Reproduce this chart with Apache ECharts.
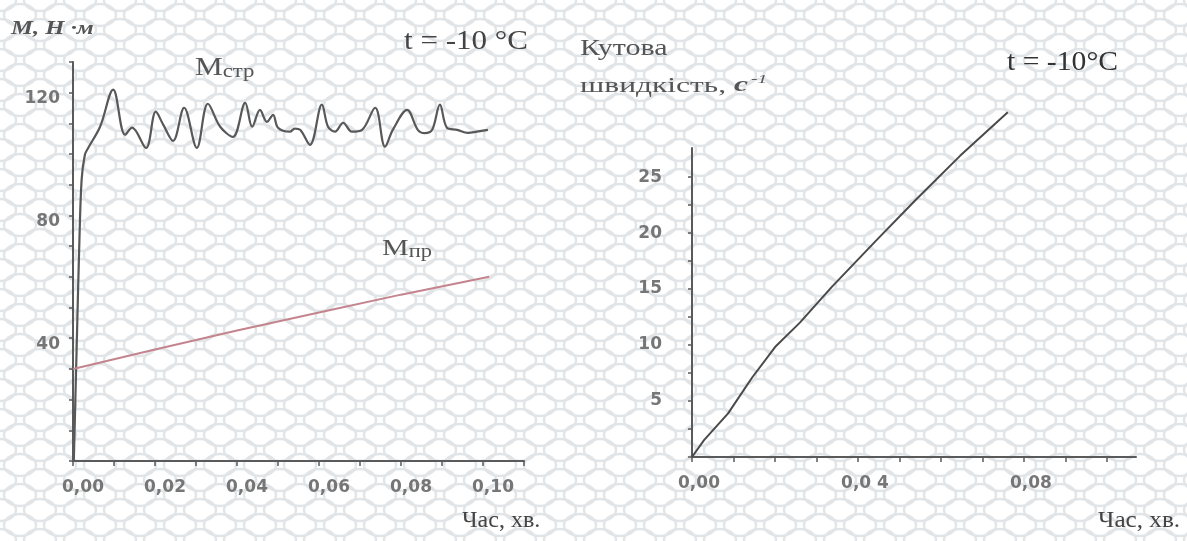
<!DOCTYPE html>
<html>
<head>
<meta charset="utf-8">
<script src="https://cdn.jsdelivr.net/npm/echarts@6/dist/echarts.min.js"></script>
<style>
html,body{margin:0;padding:0;background:#fff;}
#c{width:1187px;height:541px;}
</style>
</head>
<body>
<div id="c"></div>
<script>
// ---- Left chart: torque M (N·m) vs time (min) ----
const mStrT = [0.0002,0.001,0.0015,0.0021,0.0029,0.0037,0.0066,0.0098,0.0127,0.0144,0.0178,0.0202,0.022,0.0244,0.0271,0.0302,0.0329,0.0359,0.039,0.042,0.0437,0.0456,0.0473,0.0488,0.05,0.0529,0.0541,0.0554,0.0578,0.0607,0.0622,0.0639,0.0659,0.068,0.0705,0.0737,0.0761,0.078,0.0815,0.0841,0.0858,0.0876,0.0895,0.0912,0.0937,0.0963,0.0985,0.1012];
const mStrV = [0,42.7,68.8,91.6,99.8,102,108.9,121,106.3,108.6,102,113.8,109.6,104.3,115.1,102,116.4,108.9,105.6,116.7,108.9,114.4,110.5,112.8,108.6,107.3,108.3,107.9,103,116.1,108.9,107.3,110.2,107.3,107.9,115.1,102.4,107.9,114.4,107.9,106.8,107.9,116.1,108.6,107.9,106.9,107.3,107.9];
const mPrT = [0,0.02,0.04,0.06,0.08,0.1015];
const mPrV = [30,36.3,42.5,48.4,54.2,60];
const leftXTicks = [0,0.01,0.02,0.03,0.04,0.05,0.06,0.07,0.08,0.09,0.10,0.11];
const leftXLabels = [0,0.02,0.04,0.06,0.08,0.10];
const leftYTicks = [0,10,20,30,40,50,60,70,80,90,100,110,120,130];
const leftYLabels = [40,80,120];

// ---- Right chart: angular speed (1/s) vs time (min) ----
const omegaT = [0,0.0029,0.0087,0.0145,0.0202,0.026,0.0337,0.0443,0.054,0.0646,0.0761];
const omegaV = [0,1.5,3.9,7.1,9.9,12.0,15.2,19.3,23.0,26.9,30.8];
const rightXTicks = [0,0.01,0.02,0.03,0.04,0.05,0.06,0.07,0.08,0.09,0.10];
const rightXLabels = [0,0.04,0.08];
const rightXLabelText = ['0,00','0,0 4','0,08'];
const rightYTicks = [0,2.5,5,7.5,10,12.5,15,17.5,20,22.5,25];
const rightYLabels = [5,10,15,20,25];

function zip(a,b){return a.map((x,i)=>[x,b[i]]);}
function comma(v){return v.toFixed(2).replace('.',',');}

// background lattice pattern
const tile = document.createElement('canvas');
tile.width = 40; tile.height = 30;
(function(){
  const g = tile.getContext('2d');
  g.fillStyle = '#ffffff'; g.fillRect(0,0,40,30);
  g.strokeStyle = '#e2e5e8'; g.lineWidth = 2.4;
  const ell = (cx,cy)=>{g.beginPath();g.ellipse(cx,cy,16,11,0,0,Math.PI*2);g.stroke();};
  ell(20,15); ell(0,0); ell(40,0); ell(0,30); ell(40,30);
})();

const axisCol = '#5a5a5a';
const lblStyle = {color:'#767676', fontFamily:'DejaVu Sans', fontWeight:'bold', fontSize:17};
const serif = '"Liberation Serif", "Times New Roman", serif';

const chart = echarts.init(document.getElementById('c'), null, {renderer:'canvas'});
chart.setOption({
  animation:false,
  backgroundColor:{image:tile, repeat:'repeat'},
  grid:[
    {left:73, top:62, width:451, height:399},
    {left:692, top:148, width:444, height:309}
  ],
  xAxis:[
    {gridIndex:0, type:'value', min:0, max:0.11, splitLine:{show:false},
     axisLine:{onZero:false, lineStyle:{color:axisCol, width:2}},
     axisTick:{customValues:leftXTicks, length:5, lineStyle:{color:axisCol, width:1.5}},
     axisLabel:Object.assign({customValues:leftXLabels, formatter:v=>comma(v), margin:18, padding:[0,0,0,20]}, lblStyle)},
    {gridIndex:1, type:'value', min:0, max:0.107, splitLine:{show:false},
     axisLine:{onZero:false, lineStyle:{color:axisCol, width:2}},
     axisTick:{customValues:rightXTicks, length:5, lineStyle:{color:axisCol, width:1.5}},
     axisLabel:Object.assign({customValues:rightXLabels, formatter:v=>rightXLabelText[rightXLabels.findIndex(x=>Math.abs(x-v)<1e-9)], margin:18, padding:[0,0,0,14]}, lblStyle)}
  ],
  yAxis:[
    {gridIndex:0, type:'value', min:0, max:130, splitLine:{show:false},
     axisLine:{show:true, onZero:false, lineStyle:{color:axisCol, width:2}},
     axisTick:{show:true, customValues:leftYTicks, length:4, lineStyle:{color:axisCol, width:1.5}},
     axisLabel:Object.assign({customValues:leftYLabels, margin:13, verticalAlign:'top', lineHeight:12}, lblStyle)},
    {gridIndex:1, type:'value', min:0, max:27.6, splitLine:{show:false},
     axisLine:{show:true, onZero:false, lineStyle:{color:axisCol, width:2}},
     axisTick:{show:true, customValues:rightYTicks, length:4, lineStyle:{color:axisCol, width:1.5}},
     axisLabel:Object.assign({customValues:rightYLabels, margin:30}, lblStyle)}
  ],
  series:[
    {type:'line', xAxisIndex:0, yAxisIndex:0, data:zip(mStrT,mStrV), showSymbol:false, smooth:0.35, clip:false,
     lineStyle:{color:'#585858', width:2.2}},
    {type:'line', xAxisIndex:0, yAxisIndex:0, data:zip(mPrT,mPrV), showSymbol:false, clip:false,
     lineStyle:{color:'#c4848e', width:2}},
    {type:'line', xAxisIndex:1, yAxisIndex:1, data:zip(omegaT,omegaV), showSymbol:false, clip:false,
     lineStyle:{color:'#4a4a4a', width:2}}
  ],
  graphic:[
    {type:'text', x:11, y:20, scaleX:1.3, style:{text:'M, H ·м', font:'italic bold 19px '+serif, fill:'#555'}},
    {type:'text', x:404, y:28, scaleX:1.15, style:{text:'t = -10 °C', font:'27px '+serif, fill:'#444'}},
    {type:'text', x:195, y:55, scaleX:1.2, style:{
      text:'{a|M}{b|стр}', rich:{a:{font:'26px '+serif, fill:'#555'}, b:{font:'19px '+serif, fill:'#555', padding:[8,0,0,0]}}}},
    {type:'text', x:382, y:236, scaleX:1.25, style:{
      text:'{a|M}{b|пр}', rich:{a:{font:'24px '+serif, fill:'#555'}, b:{font:'18px '+serif, fill:'#555', padding:[7,0,0,0]}}}},
    {type:'text', x:462, y:509, style:{text:'Час, хв.', font:'24px '+serif, fill:'#444'}},
    {type:'text', x:580, y:37, scaleX:1.25, style:{text:'Кутова', font:'24px '+serif, fill:'#555'}},
    {type:'text', x:580, y:73, scaleX:1.5, style:{
      text:'{a|швидкість, }{c|c}{s|-1}', rich:{a:{font:'21px '+serif, fill:'#555'}, c:{font:'italic bold 21px '+serif, fill:'#555'}, s:{font:'italic 13px '+serif, fill:'#555', padding:[0,0,13,2]}}}},
    {type:'text', x:1007, y:49, scaleX:1.06, style:{text:'t = -10°C', font:'28px '+serif, fill:'#333'}},
    {type:'text', x:1098, y:509, scaleX:1.05, style:{text:'Час, хв.', font:'24px '+serif, fill:'#444'}}
  ]
});
</script>
</body>
</html>
